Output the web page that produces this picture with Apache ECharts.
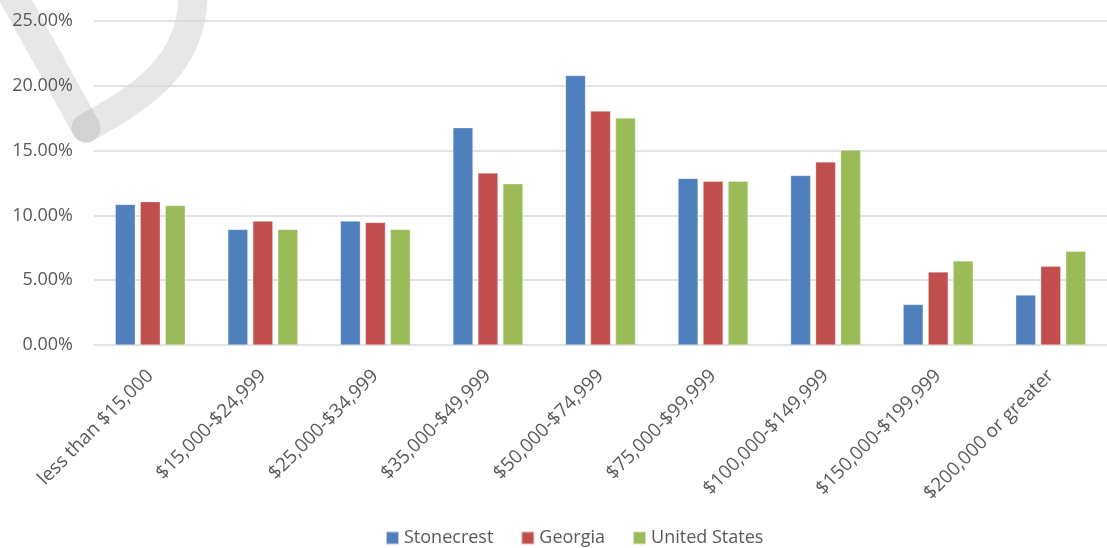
<!DOCTYPE html>
<html>
<head>
<meta charset="utf-8">
<script src="https://cdn.jsdelivr.net/npm/echarts@6/dist/echarts.min.js"></script>
<style>
    html, body { margin: 0; padding: 0; background: #fff; }
    #chart { width: 1107px; height: 548px; }
</style>
</head>
<body>
<div id="chart"></div>
<script>
// income brackets and shares (percent)
var categories = ['less than $15,000', '$15,000-$24,999', '$25,000-$34,999', '$35,000-$49,999',
    '$50,000-$74,999', '$75,000-$99,999', '$100,000-$149,999', '$150,000-$199,999', '$200,000 or greater'];
var stonecrest = [10.84, 8.92, 9.56, 16.77, 20.79, 12.85, 13.08, 3.13, 3.85];
var georgia = [11.06, 9.56, 9.46, 13.28, 18.05, 12.64, 14.13, 5.64, 6.08];
var unitedStates = [10.76, 8.92, 8.92, 12.44, 17.51, 12.64, 15.05, 6.49, 7.23];
var yTicks = [0, 5, 10, 15, 20, 25];

var myChart = echarts.init(document.getElementById('chart'));
var labelColor = '#595959';
var font = '"Open Sans", "DejaVu Sans", sans-serif';
var markStyle = { fill: null, stroke: 'rgba(0,0,0,0.095)', lineWidth: 29, lineCap: 'round' };

function barSeries(name, color, values) {
    return {
        name: name,
        type: 'bar',
        barWidth: 20,
        barGap: '25%',
        itemStyle: { color: color, borderColor: 'rgba(255,255,255,0.6)', borderWidth: 0.5 },
        data: values
    };
}

var option = {
    animation: false,
    textStyle: { fontFamily: font },
    graphic: [
        // faint watermark stroke in the top-left corner
        { type: 'line', z: -10, shape: { x1: 10, y1: -10, x2: 86, y2: 128 }, style: markStyle },
        {
            type: 'bezierCurve', z: -10,
            shape: { x1: 86, y1: 128, cpx1: 140, cpy1: 98, cpx2: 195, cpy2: 65, x2: 193, y2: -10 },
            style: markStyle
        }
    ],
    legend: {
        top: 524,
        left: 380,
        itemWidth: 13,
        itemHeight: 13,
        itemGap: 27,
        icon: 'rect',
        textStyle: { color: labelColor, fontSize: 18, fontFamily: font },
        data: ['Stonecrest', 'Georgia', 'United States']
    },
    // plot area runs a little past the right edge, as in the source
    grid: { left: 94, right: -9, top: 21, bottom: 203 },
    xAxis: {
        type: 'category',
        data: categories,
        axisLine: { show: false },
        axisTick: { show: false },
        axisLabel: { rotate: 45, color: labelColor, fontSize: 19, margin: 28, interval: 0, fontFamily: font }
    },
    yAxis: {
        type: 'value',
        min: yTicks[0],
        max: yTicks[yTicks.length - 1],
        interval: 5,
        axisLine: { show: false },
        axisTick: { show: false },
        axisLabel: {
            color: labelColor, fontSize: 18, margin: 21, fontFamily: font,
            formatter: function (v) { return v.toFixed(2) + '%'; }
        },
        splitLine: { lineStyle: { color: '#d9d9d9', width: 1.5 } }
    },
    series: [
        barSeries('Stonecrest', '#4f7fbd', stonecrest),
        barSeries('Georgia', '#c04f4d', georgia),
        barSeries('United States', '#9bbb58', unitedStates)
    ]
};
myChart.setOption(option);
</script>
</body>
</html>
